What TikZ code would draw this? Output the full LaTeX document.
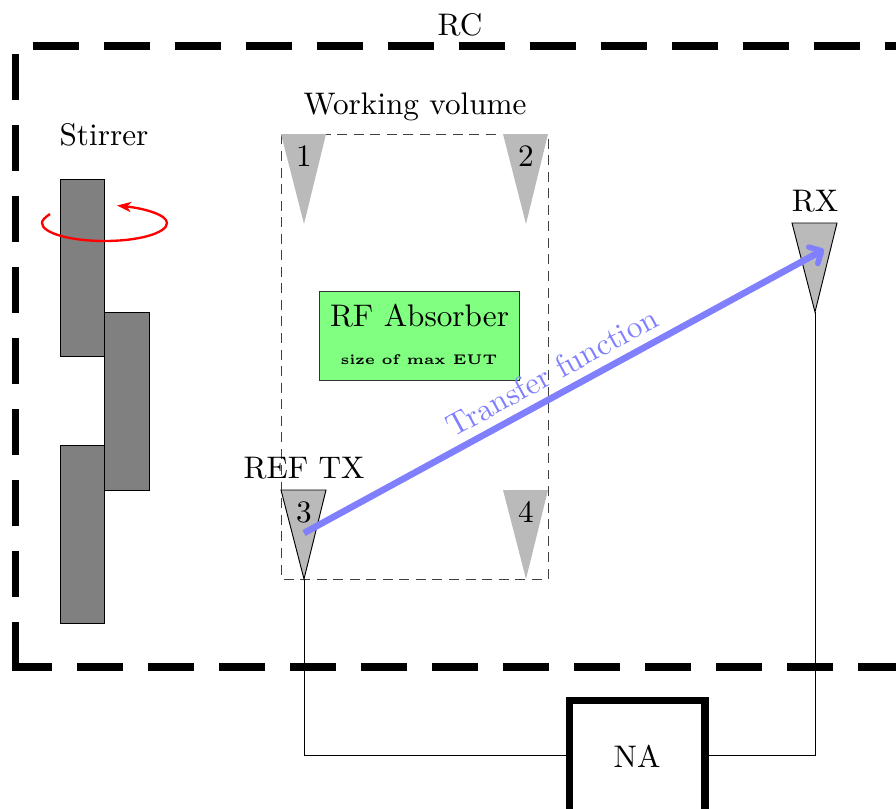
\documentclass[tikz,border=0pt]{standalone}
\usetikzlibrary{arrows.meta}
\newcommand{\dbl}[1]{\scalebox{2}{#1}}
\begin{document}
\begin{tikzpicture}[x=1cm/44.4,y=-1cm/44.4,
  rcwall/.style={line width=4.5pt,dash pattern=on 29.5pt off 16pt},
  paddle/.style={draw=black,fill=black!50,line width=0.5pt},
  antgrey/.style={fill=black!27,draw=none},
  antline/.style={fill=black!27,draw=black,line width=0.6pt},
  wire/.style={draw=black,line width=0.6pt},
  lab/.style={inner sep=0pt}]
\path[use as bounding box] (0,0) rectangle (896,808);
\draw[rcwall] (15.5,668) -- (15.5,46) -- (920,46);
\draw[rcwall,dash phase=3.85pt] (12,667) -- (920,667);
\node[lab] (rc) at (460,25) {\dbl{RC}};
\node[lab] (wv) at (415,107) {\dbl{Working volume}};
\node[lab] (st) at (104,135) {\dbl{Stirrer}};
% stirrer
\draw[paddle] (60,179) rectangle (104,356);
\draw[paddle] (104,312) rectangle (149,490);
\draw[paddle] (60,445) rectangle (104,623);
\draw[red,line width=1.5pt,-{Stealth[length=9pt,width=6.5pt,inset=2.5pt]}] (50,214) .. controls (45,217.5) and (42,220) .. (42,223) .. controls (42,233) and (70,241) .. (104.5,241) .. controls (139,241) and (167,233) .. (167,223) .. controls (167,215) and (145,208.5) .. (117,205.5);
% working volume
\draw[black!75,line width=0.5pt,dash pattern=on 6.4pt off 4.2pt] (281.5,134.5) rectangle (548,579);
\fill[antgrey] (281,134) -- (326,134) -- (304,224) -- cycle;
\fill[antgrey] (503,134) -- (548,134) -- (526,224) -- cycle;
\fill[antgrey] (503,490) -- (548,490) -- (526,579) -- cycle;
\draw[antline] (281,490) -- (326,490) -- (304,579) -- cycle;
\draw[antline] (792,223) -- (837,223) -- (815,312) -- cycle;
\coordinate (tip3) at (304,579);
\coordinate (tip5) at (815,312);
\coordinate (wy) at (0,755.5);
\node[lab] (n1) at (304,156) {\dbl{1}};
\node[lab] (n2) at (526,156) {\dbl{2}};
\node[lab] (n3) at (304,512) {\dbl{3}};
\node[lab] (n4) at (526,512) {\dbl{4}};
\node[lab] (ref) at (304,468) {\dbl{REF TX}};
\node[lab] (rx) at (815,201) {\dbl{RX}};
% absorber
\node[draw=black!80,line width=0.5pt,fill=green!50,minimum width=199.5cm/44.4,minimum height=89cm/44.4,inner sep=0pt] (abs) at (419.5,335.5) {};
\node[lab] (absa) at (419.5,316) {\dbl{RF Absorber}};
\node[lab] (absb) at (419,360) {\scalebox{1.8}{\tiny\bfseries size of max EUT}};
% NA
\node[draw=black,line width=4.8pt,fill=white,minimum width=135.5cm/44.4,minimum height=114cm/44.4,inner sep=0pt] (na) at (637.25,757.5) {};
\node[lab] (nat) at (637,756) {\dbl{NA}};
\draw[wire] (tip3) -- (tip3 |- wy) -- (na.west |- wy);
\draw[wire] (tip5) -- (tip5 |- wy) -- (na.east |- wy);
% transfer
\coordinate (a) at (304,533);
\coordinate (b) at (824,249.5);
\draw[blue!50,line width=4.2pt,-{Straight Barb[length=6pt,width=12pt,line width=3.6pt,round]}] (a) -- (b);
\node[lab,text=blue!50,rotate=28.6] (tf) at (552,372) {\dbl{Transfer function}};
\end{tikzpicture}
\end{document}
